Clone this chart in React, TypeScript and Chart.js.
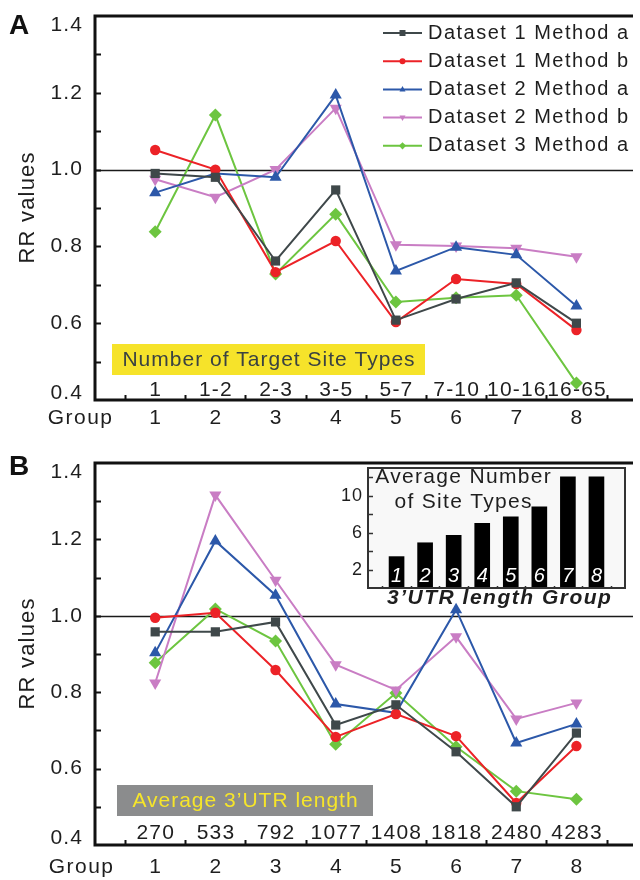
import React, { useEffect, useRef } from 'react';
import { Chart, registerables } from 'chart.js';

Chart.register(...registerables);

const FONT = '"Liberation Sans", Arial, Helvetica, sans-serif';

// ---------- data ----------
const groups = [1, 2, 3, 4, 5, 6, 7, 8];
const siteTypeRanges = ['1', '1-2', '2-3', '3-5', '5-7', '7-10', '10-16', '16-65'];
const utrLengths = ['270', '533', '792', '1077', '1408', '1818', '2480', '4283'];
const seriesLabels = [
  'Dataset 1 Method a',
  'Dataset 1 Method b',
  'Dataset 2 Method a',
  'Dataset 2 Method b',
  'Dataset 3 Method a',
];
const seriesColors = ['#3f484a', '#ec2227', '#2c58a9', '#c97dc4', '#6dc540'];
const seriesMarkers = ['square', 'circle', 'triangle', 'triangleDown', 'diamond'];

// Panel A (Number of Target Site Types)
const aDataset1MethodA = [0.99, 0.98, 0.762, 0.947, 0.608, 0.663, 0.705, 0.6];
const aDataset1MethodB = [1.051, 1.0, 0.733, 0.814, 0.603, 0.715, 0.702, 0.582];
const aDataset2MethodA = [0.94, 0.99, 0.98, 1.194, 0.736, 0.798, 0.778, 0.645];
const aDataset2MethodB = [0.975, 0.928, 1.0, 1.16, 0.804, 0.801, 0.795, 0.773];
const aDataset3MethodA = [0.838, 1.142, 0.728, 0.884, 0.655, 0.666, 0.673, 0.444];

// Panel B (Average 3'UTR length)
const bDataset1MethodA = [0.958, 0.958, 0.984, 0.714, 0.767, 0.644, 0.5, 0.693];
const bDataset1MethodB = [0.995, 1.008, 0.858, 0.683, 0.743, 0.685, 0.51, 0.659];
const bDataset2MethodA = [0.903, 1.196, 1.054, 0.769, 0.746, 1.016, 0.667, 0.717];
const bDataset2MethodB = [0.824, 1.316, 1.093, 0.872, 0.806, 0.945, 0.73, 0.772];
const bDataset3MethodA = [0.877, 1.018, 0.934, 0.664, 0.798, 0.657, 0.541, 0.52];

// Inset (Average Number of Site Types per 3'UTR length group)
const insetSiteTypes = [3.4, 4.9, 5.7, 7.0, 7.7, 8.8, 12.05, 12.05];

const yTickValues = [0.4, 0.6, 0.8, 1.0, 1.2, 1.4];
const yMinorTickValues = [0.5, 0.6, 0.7, 0.8, 0.9, 1.0, 1.1, 1.2, 1.3];
const insetTickLabels = [2, 6, 10];
const insetMinorTicks = [2, 4, 6, 8, 10, 12];

// ---------- helpers ----------
function drawText(
  ctx: CanvasRenderingContext2D,
  s: string,
  x: number,
  y: number,
  opts: { size?: number; weight?: string; style?: string; color?: string; align?: CanvasTextAlign; spacing?: number } = {}
) {
  const { size = 21, weight = 'normal', style = 'normal', color = '#1e1e1e', align = 'center', spacing = 1.2 } = opts;
  ctx.save();
  ctx.font = `${style} ${weight} ${size}px ${FONT}`;
  (ctx as any).letterSpacing = `${spacing}px`;
  ctx.fillStyle = color;
  ctx.textBaseline = 'middle';
  let xx = x;
  // letterSpacing adds trailing space; compensate for centering/right alignment
  if (align === 'center') xx = x + spacing / 2;
  if (align === 'right') xx = x + spacing;
  ctx.textAlign = align;
  ctx.fillText(s, xx, y);
  ctx.restore();
}

function drawMarker(ctx: CanvasRenderingContext2D, kind: string, x: number, y: number, r: number, color: string) {
  ctx.save();
  ctx.fillStyle = color;
  ctx.beginPath();
  if (kind === 'square') {
    ctx.rect(x - r, y - r, 2 * r, 2 * r);
  } else if (kind === 'circle') {
    ctx.arc(x, y, r, 0, Math.PI * 2);
  } else if (kind === 'triangle') {
    ctx.moveTo(x, y - r * 1.1);
    ctx.lineTo(x + r, y + r * 0.7);
    ctx.lineTo(x - r, y + r * 0.7);
    ctx.closePath();
  } else if (kind === 'triangleDown') {
    ctx.moveTo(x, y + r * 1.1);
    ctx.lineTo(x + r, y - r * 0.7);
    ctx.lineTo(x - r, y - r * 0.7);
    ctx.closePath();
  } else {
    ctx.moveTo(x, y - r * 1.2);
    ctx.lineTo(x + r * 1.2, y);
    ctx.lineTo(x, y + r * 1.2);
    ctx.lineTo(x - r * 1.2, y);
    ctx.closePath();
  }
  ctx.fill();
  ctx.restore();
}

function pointOpts(kind: string) {
  switch (kind) {
    case 'square':
      return { pointStyle: 'rect', pointRadius: 6.5, pointRotation: 0 };
    case 'circle':
      return { pointStyle: 'circle', pointRadius: 5.2, pointRotation: 0 };
    case 'triangle':
      return { pointStyle: 'triangle', pointRadius: 7, pointRotation: 0 };
    case 'triangleDown':
      return { pointStyle: 'triangle', pointRadius: 7, pointRotation: 180 };
    default:
      return { pointStyle: 'rectRot', pointRadius: 6.5, pointRotation: 0 };
  }
}

type PanelCfg = {
  letter: string;
  letterBaseline: number;
  rangeLabels: string[];
  rangeY: number;
  groupY: number;
  groupRight: number;
  boxText: string;
  box: { x: number; y: number; w: number; h: number; fill: string; color: string };
  legend: boolean;
  padTop: number;
  padBottom: number;
};

function makePanelPlugin(cfg: PanelCfg) {
  return {
    id: 'panelDecor' + cfg.letter,
    beforeDatasetsDraw(chart: any) {
      const { ctx, chartArea: a, scales } = chart;
      const y = scales.y;
      ctx.save();
      // label box
      ctx.fillStyle = cfg.box.fill;
      ctx.fillRect(cfg.box.x, cfg.box.y, cfg.box.w, cfg.box.h);
      drawText(ctx, cfg.boxText, cfg.box.x + cfg.box.w / 2, cfg.box.y + cfg.box.h / 2 + 1, {
        color: cfg.box.color,
        size: 21,
        spacing: 1,
      });
      // reference line at 1.0
      const y1 = Math.round(y.getPixelForValue(1.0)) + 0.5;
      ctx.strokeStyle = '#1a1a1a';
      ctx.lineWidth = 1.5;
      ctx.beginPath();
      ctx.moveTo(a.left, y1);
      ctx.lineTo(a.right, y1);
      ctx.stroke();
      ctx.restore();
    },
    afterDraw(chart: any) {
      const { ctx, chartArea: a, scales } = chart;
      const x = scales.x;
      const y = scales.y;
      ctx.save();
      // frame
      ctx.strokeStyle = '#111';
      ctx.lineWidth = 3;
      ctx.beginPath();
      ctx.moveTo(a.right, a.top);
      ctx.lineTo(a.left, a.top);
      ctx.lineTo(a.left, a.bottom);
      ctx.lineTo(a.right, a.bottom);
      ctx.stroke();
      // y ticks (inward)
      ctx.lineWidth = 2;
      ctx.beginPath();
      for (const v of yMinorTickValues) {
        const py = Math.round(y.getPixelForValue(v)) + 0.5;
        ctx.moveTo(a.left, py);
        ctx.lineTo(a.left + 6, py);
      }
      // x ticks at group boundaries (inward)
      for (let i = 0; i <= groups.length; i++) {
        const px = Math.round(x.getPixelForValue(groups[0] - 0.5 + i)) + 0.5;
        ctx.moveTo(px, a.bottom);
        ctx.lineTo(px, a.bottom - 5);
      }
      ctx.stroke();
      // y labels
      for (const v of yTickValues) {
        let py = y.getPixelForValue(v);
        if (v === yTickValues[yTickValues.length - 1]) py += 9;
        if (v === yTickValues[0]) py -= 7;
        drawText(ctx, v.toFixed(1), 82, py, { align: 'right', size: 21, spacing: 1.2 });
      }
      // y title
      ctx.save();
      ctx.translate(28, (a.top + a.bottom) / 2);
      ctx.rotate(-Math.PI / 2);
      drawText(ctx, 'RR values', 0, 0, { size: 22, spacing: 1.2 });
      ctx.restore();
      // range labels inside plot
      groups.forEach((g, i) => {
        drawText(ctx, cfg.rangeLabels[i], x.getPixelForValue(g), cfg.rangeY, { size: 21, spacing: 1.2 });
      });
      // group row
      drawText(ctx, 'Group', cfg.groupRight, cfg.groupY, { align: 'right', size: 21, spacing: 1.5 });
      groups.forEach((g) => {
        drawText(ctx, String(g), x.getPixelForValue(g), cfg.groupY, { size: 21 });
      });
      // panel letter
      ctx.save();
      ctx.font = `bold 28px ${FONT}`;
      ctx.fillStyle = '#111';
      ctx.textBaseline = 'alphabetic';
      ctx.textAlign = 'left';
      ctx.fillText(cfg.letter, 9, cfg.letterBaseline);
      ctx.restore();
      // legend
      if (cfg.legend) {
        seriesLabels.forEach((lab, i) => {
          const ly = 33 + i * 28.2;
          ctx.strokeStyle = seriesColors[i];
          ctx.lineWidth = 2;
          ctx.beginPath();
          ctx.moveTo(383, ly);
          ctx.lineTo(422, ly);
          ctx.stroke();
          drawMarker(ctx, seriesMarkers[i], 402.5, ly, 3, seriesColors[i]);
          drawText(ctx, lab, 428, ly, { align: 'left', size: 20, spacing: 1.5 });
        });
      }
      ctx.restore();
    },
  };
}

function PanelChart({ values, cfg, top }: { values: number[][]; cfg: PanelCfg; top: number }) {
  const ref = useRef<HTMLCanvasElement>(null);
  useEffect(() => {
    const chart = new Chart(ref.current as HTMLCanvasElement, {
      type: 'line',
      data: {
        datasets: values.map((vals, si) => ({
          label: seriesLabels[si],
          data: groups.map((g, i) => ({ x: g, y: vals[i] })),
          borderColor: seriesColors[si],
          backgroundColor: seriesColors[si],
          pointBackgroundColor: seriesColors[si],
          pointBorderColor: seriesColors[si],
          pointBorderWidth: 0,
          borderWidth: 2,
          tension: 0,
          fill: false,
          ...pointOpts(seriesMarkers[si]),
        })) as any,
      },
      options: {
        animation: false,
        responsive: false,
        maintainAspectRatio: false,
        events: [],
        layout: { padding: { left: 95, right: 0, top: cfg.padTop, bottom: cfg.padBottom } },
        plugins: { legend: { display: false }, tooltip: { enabled: false } },
        scales: {
          x: { type: 'linear', min: 0, max: 8.94, display: false },
          y: { type: 'linear', min: 0.4, max: 1.4, display: false },
        },
      },
      plugins: [makePanelPlugin(cfg)],
    });
    return () => chart.destroy();
  }, []);
  return (
    <canvas
      ref={ref}
      width={640}
      height={440}
      style={{ position: 'absolute', left: 0, top, width: 640, height: 440, display: 'block' }}
    />
  );
}

const insetPlugin = {
  id: 'insetDecor',
  beforeDatasetsDraw(chart: any) {
    const { ctx, chartArea: a } = chart;
    ctx.save();
    ctx.fillStyle = '#f8f8f8';
    ctx.fillRect(a.left, a.top, a.right - a.left, a.bottom - a.top);
    ctx.restore();
  },
  afterDraw(chart: any) {
    const { ctx, chartArea: a, scales } = chart;
    const x = scales.x;
    const y = scales.y;
    ctx.save();
    ctx.strokeStyle = '#333';
    ctx.lineWidth = 2;
    ctx.strokeRect(a.left, a.top, a.right - a.left, a.bottom - a.top);
    ctx.lineWidth = 1.5;
    ctx.beginPath();
    for (const v of insetMinorTicks) {
      const py = Math.round(y.getPixelForValue(v)) + 0.5;
      ctx.moveTo(a.left, py);
      ctx.lineTo(a.left + 5, py);
    }
    for (let i = 0; i <= groups.length; i++) {
      const px = Math.round(x.getPixelForValue(groups[0] - 0.5 + i)) + 0.5;
      ctx.moveTo(px, a.bottom);
      ctx.lineTo(px, a.bottom - 2);
    }
    ctx.stroke();
    for (const v of insetTickLabels) {
      drawText(ctx, String(v), a.left - 6, y.getPixelForValue(v), { align: 'right', size: 18, spacing: 1 });
    }
    groups.forEach((g) => {
      drawText(ctx, String(g), x.getPixelForValue(g), a.bottom - 12, {
        size: 20,
        style: 'italic',
        color: '#ffffff',
        spacing: 0,
      });
    });
    const cx = 133;
    drawText(ctx, 'Average Number', cx, a.top + 9, { size: 21, spacing: 1.3 });
    drawText(ctx, 'of Site Types', cx, a.top + 34, { size: 21, spacing: 1.3 });
    drawText(ctx, '3\u2019UTR length Group', 169, a.bottom + 10, {
      size: 21,
      weight: 'bold',
      style: 'italic',
      spacing: 1.5,
      color: '#1e1e1e',
    });
    ctx.restore();
  },
};

function InsetChart() {
  const ref = useRef<HTMLCanvasElement>(null);
  useEffect(() => {
    const chart = new Chart(ref.current as HTMLCanvasElement, {
      type: 'bar',
      data: {
        datasets: [
          {
            label: 'Average Number of Site Types',
            data: groups.map((g, i) => ({ x: g, y: insetSiteTypes[i] })),
            backgroundColor: '#000000',
            borderWidth: 0,
            barThickness: 15,
          },
        ] as any,
      },
      options: {
        animation: false,
        responsive: false,
        maintainAspectRatio: false,
        events: [],
        layout: { padding: { left: 38, right: 5, top: 6, bottom: 24 } },
        plugins: { legend: { display: false }, tooltip: { enabled: false } },
        scales: {
          x: { type: 'linear', min: 0, max: 9, display: false, offset: false },
          y: { type: 'linear', min: 0, max: 13, display: false },
        },
      },
      plugins: [insetPlugin],
    });
    return () => chart.destroy();
  }, []);
  return (
    <canvas
      ref={ref}
      width={300}
      height={150}
      style={{ position: 'absolute', left: 330, top: 462, width: 300, height: 150, display: 'block' }}
    />
  );
}

const panelA: PanelCfg = {
  letter: 'A',
  letterBaseline: 34,
  rangeLabels: siteTypeRanges,
  rangeY: 390,
  groupY: 418,
  groupRight: 112,
  boxText: 'Number of Target Site Types',
  box: { x: 112, y: 344, w: 313, h: 31, fill: '#f6e32a', color: '#3a4242' },
  legend: true,
  padTop: 16,
  padBottom: 40,
};

const panelB: PanelCfg = {
  letter: 'B',
  letterBaseline: 35,
  rangeLabels: utrLengths,
  rangeY: 393,
  groupY: 427,
  groupRight: 113,
  boxText: 'Average 3\u2019UTR length',
  box: { x: 117, y: 345, w: 256, h: 31, fill: '#8b8c8d', color: '#f6e52a' },
  legend: false,
  padTop: 23,
  padBottom: 35,
};

export default function App() {
  return (
    <div style={{ position: 'absolute', left: 0, top: 0, width: 640, height: 880, background: '#fff', overflow: 'hidden' }}>
      <PanelChart
        values={[aDataset1MethodA, aDataset1MethodB, aDataset2MethodA, aDataset2MethodB, aDataset3MethodA]}
        cfg={panelA}
        top={0}
      />
      <PanelChart
        values={[bDataset1MethodA, bDataset1MethodB, bDataset2MethodA, bDataset2MethodB, bDataset3MethodA]}
        cfg={panelB}
        top={440}
      />
      <InsetChart />
    </div>
  );
}
